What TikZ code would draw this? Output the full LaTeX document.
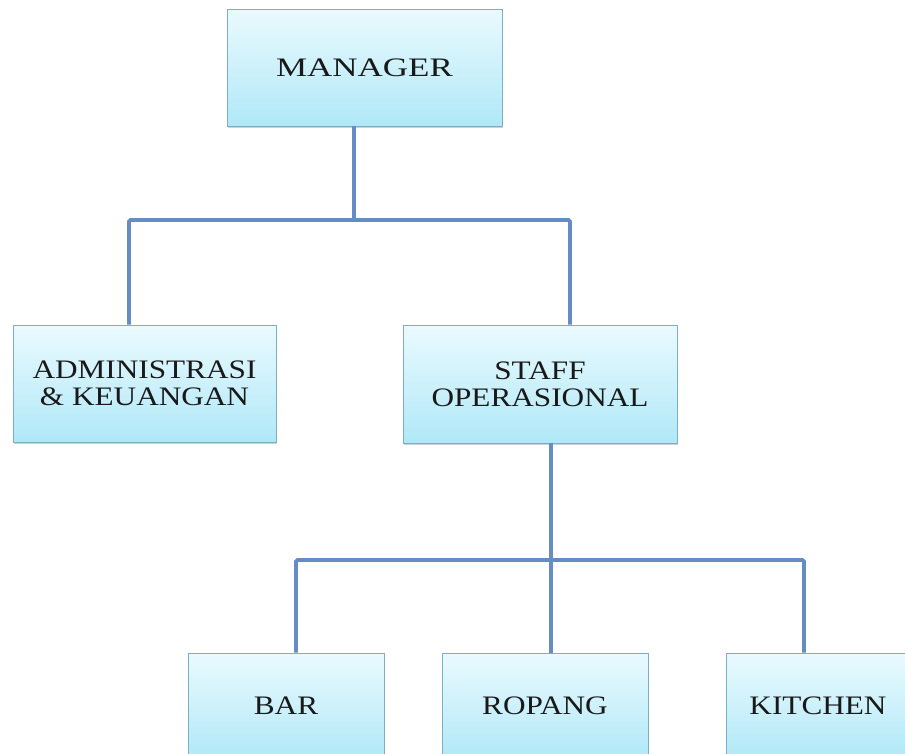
\documentclass[tikz,border=0pt]{standalone}
\usepackage{fontspec}
\setmainfont{Liberation Serif}[FakeStretch=1.17]
\newfontfamily\mgrfont{Liberation Serif}[FakeStretch=1.31]
\usetikzlibrary{shadows}
\definecolor{boxtop}{RGB}{234,250,254}
\definecolor{boxbot}{RGB}{176,232,248}
\definecolor{boxline}{RGB}{125,175,195}
\definecolor{connc}{RGB}{102,140,196}
\tikzset{
  orgbox/.style={draw=boxline, line width=0.8pt, top color=boxtop, bottom color=boxbot,
    inner sep=0pt, align=center, text=black!90,
    font=\fontsize{26.7}{26.7}\selectfont,
    drop shadow={shadow xshift=1.2pt, shadow yshift=-1.6pt, opacity=0.3, fill=black!60}},
  connline/.style={draw=connc, line width=3.6pt, rounded corners=1.5pt}
}
\begin{document}
\begin{tikzpicture}[x=1pt,y=-1pt]
\useasboundingbox (0,0) rectangle (905,753);
\clip (0,0) rectangle (905,753);
\fill[white] (0,0) rectangle (905,753);
% boxes
\node[orgbox, minimum width=275pt, minimum height=117pt, font=\fontsize{26.7}{26.7}\mgrfont] (mgr) at (364.5,67.5) {MANAGER};
\node[orgbox, minimum width=263pt, minimum height=117pt] (adm) at (144.5,383.5) {ADMINISTRASI\\\& KEUANGAN};
\node[orgbox, minimum width=274pt, minimum height=118pt] (stf) at (540,384) {STAFF\\OPERASIONAL};
\node[orgbox, minimum width=196pt, minimum height=106pt] (bar) at (286,706) {BAR};
\node[orgbox, minimum width=206pt, minimum height=106pt] (rop) at (545,706) {ROPANG};
\node[orgbox, minimum width=184pt, minimum height=106pt] (kit) at (818,706) {KITCHEN};
% connectors
\coordinate (j1) at (354,220);
\coordinate (j2) at (551,560);
\draw[connline] ([xshift=-10.5pt]mgr.south) -- (j1);
\draw[connline] ([xshift=-15.5pt]adm.north) |- (j1) -| ([xshift=30pt]stf.north);
\draw[connline] ([xshift=11pt]stf.south) -- (j2);
\draw[connline] ([xshift=10pt]bar.north) |- (j2) -| ([xshift=-14pt]kit.north);
\draw[connline] (j2) -- ([xshift=6pt]rop.north);
\end{tikzpicture}
\end{document}
